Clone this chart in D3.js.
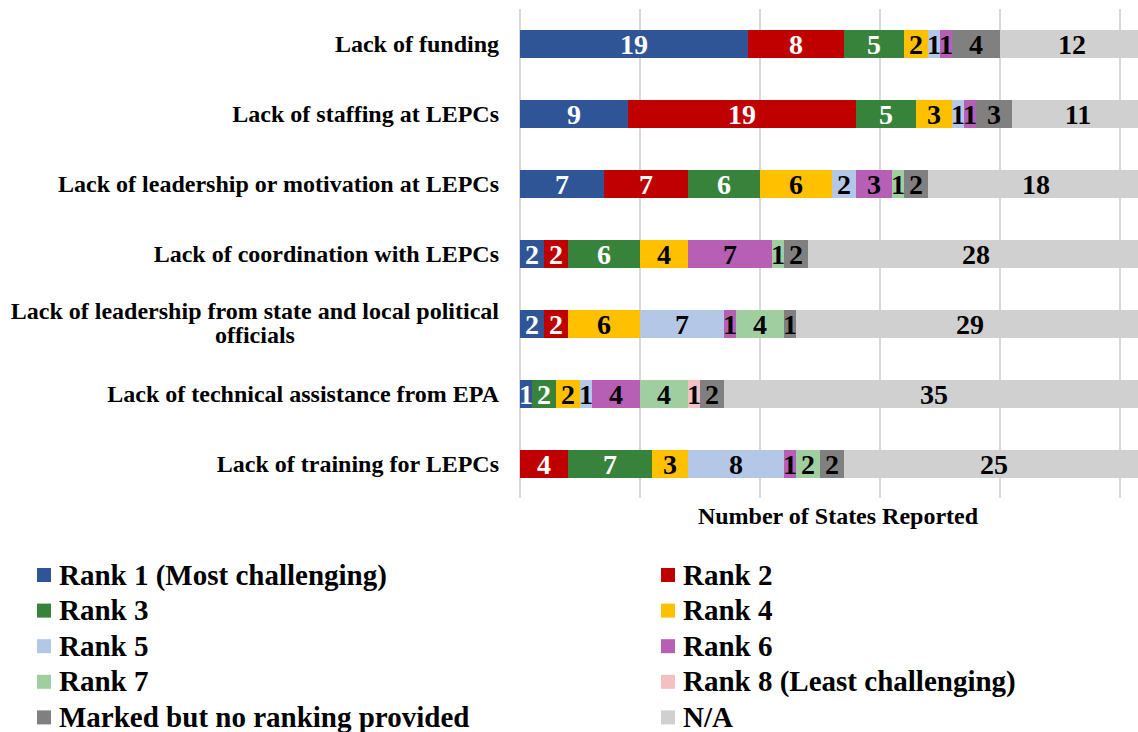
<!DOCTYPE html>
<html>
<head>
<meta charset="utf-8">
<script src="https://cdn.jsdelivr.net/npm/d3@7"></script>
<style>
  body { margin: 0; background: #fff; }
</style>
</head>
<body>
<div id="chart"></div>
<script>
// challenges, top to bottom
var categories = [
  "Lack of funding",
  "Lack of staffing at LEPCs",
  "Lack of leadership or motivation at LEPCs",
  "Lack of coordination with LEPCs",
  "Lack of leadership from state and local political officials",
  "Lack of technical assistance from EPA",
  "Lack of training for LEPCs"
];

var seriesNames = [
  "Rank 1 (Most challenging)", "Rank 2", "Rank 3", "Rank 4", "Rank 5",
  "Rank 6", "Rank 7", "Rank 8 (Least challenging)",
  "Marked but no ranking provided", "N/A"
];

var rank1  = [19, 9, 7, 2, 2, 1, 0];
var rank2  = [8, 19, 7, 2, 2, 0, 4];
var rank3  = [5, 5, 6, 6, 0, 2, 7];
var rank4  = [2, 3, 6, 4, 6, 2, 3];
var rank5  = [1, 1, 2, 0, 7, 1, 8];
var rank6  = [1, 1, 3, 7, 1, 4, 1];
var rank7  = [0, 0, 1, 1, 4, 4, 2];
var rank8  = [0, 0, 0, 0, 0, 1, 0];
var marked = [4, 3, 2, 2, 1, 2, 2];
var na     = [12, 11, 18, 28, 29, 35, 25];

var xTicks = [0, 10, 20, 30, 40, 50, 60];

var colors = ["#2F5597", "#C00000", "#38833C", "#FFC000", "#B4C7E7",
              "#B75FB5", "#9FCFA0", "#F4C0C4", "#808080", "#D0D0D0"];
var labelColors = ["#fff", "#fff", "#fff", "#000", "#000",
                   "#000", "#000", "#000", "#000", "#000"];

var allSeries = [rank1, rank2, rank3, rank4, rank5, rank6, rank7, rank8, marked, na];

var rows = categories.map(function(c, i) {
  var r = { name: c };
  seriesNames.forEach(function(s, j) { r[s] = allSeries[j][i]; });
  return r;
});

var width = 1138, height = 732;

var svg = d3.select("#chart").append("svg")
  .attr("width", width)
  .attr("height", height)
  .attr("font-family", "Liberation Serif, Tinos, DejaVu Serif, serif")
  .attr("font-weight", "bold");

var x = d3.scaleLinear().domain([0, 60]).range([520, 1240]);
var y = d3.scaleBand().domain(categories).range([9, 499])
  .paddingInner(0.6).paddingOuter(0.3);

// gridlines
svg.append("g")
  .selectAll("line")
  .data(xTicks)
  .enter()
  .append("line")
  .attr("x1", d => x(d)).attr("x2", d => x(d))
  .attr("y1", 9).attr("y2", 498)
  .attr("stroke", "#D9D9D9")
  .attr("stroke-width", 2);

var stack = d3.stack().keys(seriesNames)(rows);

var layer = svg.append("g")
  .selectAll("g")
  .data(stack)
  .enter()
  .append("g")
  .attr("fill", (d, i) => colors[i]);

layer.selectAll("rect")
  .data(d => d)
  .enter()
  .append("rect")
  .attr("x", d => x(d[0]))
  .attr("y", d => y(d.data.name))
  .attr("width", d => x(d[1]) - x(d[0]))
  .attr("height", y.bandwidth());

// value labels
svg.append("g")
  .selectAll("g")
  .data(stack)
  .enter()
  .append("g")
  .attr("fill", (d, i) => labelColors[i])
  .attr("font-size", 28)
  .attr("text-anchor", "middle")
  .selectAll("text")
  .data(d => d.filter(p => p[1] - p[0] > 0))
  .enter()
  .append("text")
  .attr("x", d => x((d[0] + d[1]) / 2))
  .attr("y", d => y(d.data.name) + y.bandwidth() / 2)
  .attr("dy", "0.35em")
  .text(d => d[1] - d[0]);

// category labels (wrapped at the long one)
var catG = svg.append("g").attr("font-size", 24).attr("fill", "#000");
categories.forEach(function(c) {
  var cy = y(c) + y.bandwidth() / 2;
  if (c.length > 50) {
    var l1 = "Lack of leadership from state and local political";
    var l2 = "officials";
    var t1 = catG.append("text").attr("text-anchor", "end")
      .attr("x", 499).attr("y", cy - 5).text(l1);
    var w = t1.node().getComputedTextLength();
    catG.append("text").attr("text-anchor", "middle")
      .attr("x", 499 - w / 2).attr("y", cy + 19).text(l2);
  } else {
    catG.append("text").attr("text-anchor", "end")
      .attr("x", 499).attr("y", cy).attr("dy", "0.33em").text(c);
  }
});

// axis title
svg.append("text")
  .attr("x", 838).attr("y", 524)
  .attr("text-anchor", "middle")
  .attr("font-size", 24)
  .text("Number of States Reported");

// legend
var legend = svg.append("g")
  .selectAll("g")
  .data(seriesNames)
  .enter()
  .append("g")
  .attr("transform", (d, i) => "translate(" + (i % 2 ? 661 : 37) + "," + (575 + Math.floor(i / 2) * 35.6) + ")");

legend.append("rect")
  .attr("x", 0).attr("y", -7)
  .attr("width", 14).attr("height", 14)
  .attr("fill", (d, i) => colors[i]);

legend.append("text")
  .attr("x", 22).attr("y", 9.5)
  .attr("font-size", 29)
  .text(d => d);
</script>
</body>
</html>
